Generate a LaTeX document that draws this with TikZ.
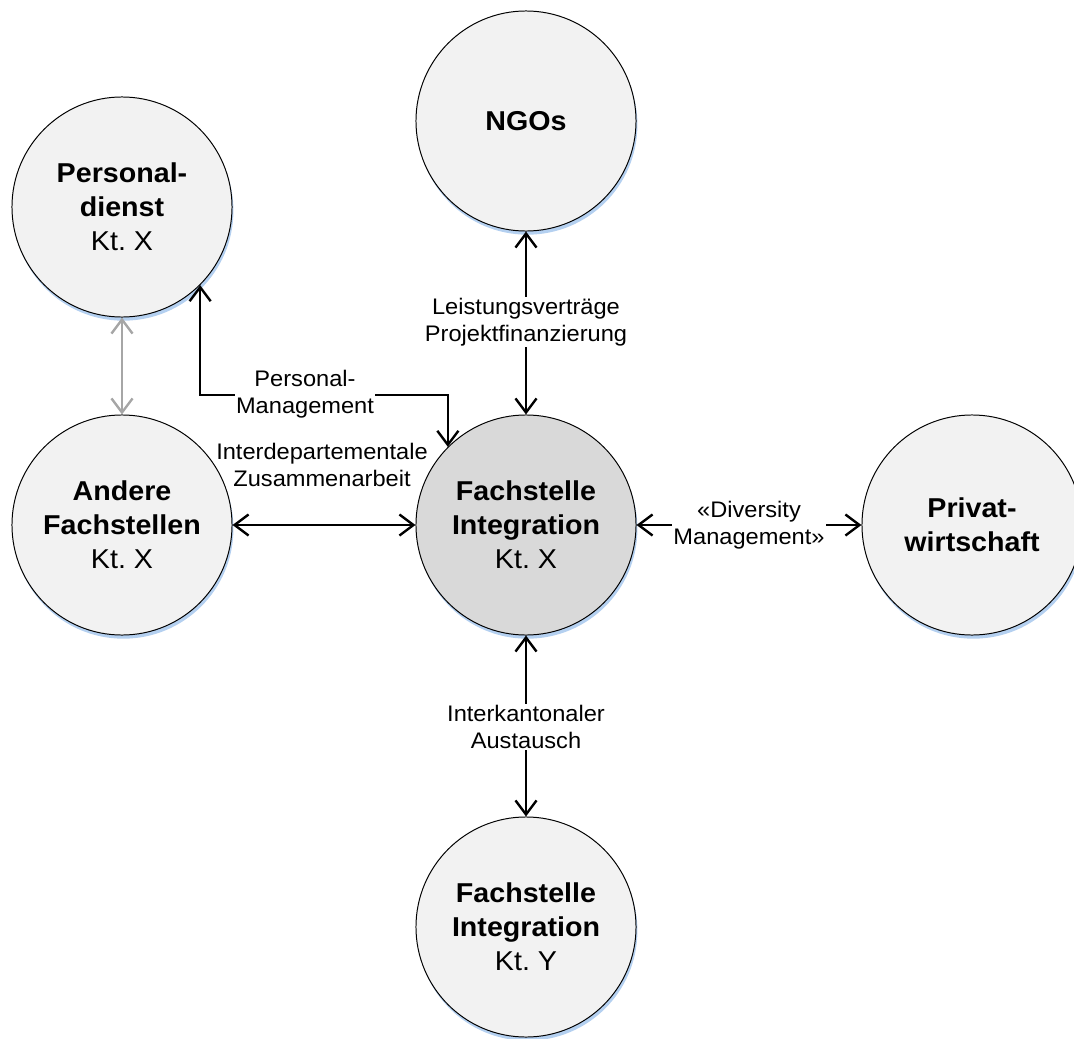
\documentclass[tikz,border=0pt]{standalone}
\usepackage{fontspec}
\setmainfont{Liberation Sans}[FakeStretch=1.05]
\usetikzlibrary{arrows.meta,shadows}
\frenchspacing
\definecolor{circfill}{HTML}{F2F2F2}
\definecolor{centerfill}{HTML}{D9D9D9}
\definecolor{shadowblue}{RGB}{180,208,240}
\definecolor{arrowgray}{HTML}{A6A6A6}
\tikzset{
  bubble/.style={circle, draw=black, line width=0.7pt, fill=circfill,
    minimum size=5.5cm, inner sep=0pt, align=center,
    font=\fontsize{19.4}{24.2}\selectfont\bfseries,
    drop shadow={shadow xshift=1pt, shadow yshift=-2.6pt, fill=shadowblue, opacity=1}},
  centerbubble/.style={bubble, fill=centerfill},
  link/.style={line width=1.7pt, black, {Straight Barb[length=10pt,width=15pt]}-{Straight Barb[length=10pt,width=15pt]}},
  graylink/.style={link, draw=arrowgray},
  lbl/.style={align=center, inner sep=1pt, font=\fontsize{16}{19.2}\selectfont},
  lblw/.style={lbl, fill=white}
}
\begin{document}
\begin{tikzpicture}[x=0.025cm, y=-0.025cm]
\useasboundingbox (0,0) rectangle (1074,1039);
% circles
\node[bubble] (PD) at (122,207) {Personal-\\dienst\\{\mdseries Kt. X}};
\node[bubble] (NGO) at (526,121) {NGOs};
\node[bubble] (AF) at (122,525) {Andere\\Fachstellen\\{\mdseries Kt. X}};
\node[centerbubble] (FI) at (526,525) {Fachstelle\\Integration\\{\mdseries Kt. X}};
\node[bubble] (PW) at (972,525) {Privat-\\wirtschaft};
\node[bubble] (FY) at (526,927) {Fachstelle\\Integration\\{\mdseries Kt. Y}};
% connectors
\coordinate (pmturn) at (305,395);
\draw[graylink] (PD.south) -- (AF.north);
\draw[link] (NGO.south) -- (FI.north);
\draw[link] (AF.east) -- (FI.west);
\draw[link] (FI.east) -- (PW.west);
\draw[link] (FI.south) -- (FY.north);
\draw[link] (PD.-45) |- (pmturn) -| (FI.135);
% labels
\node[lblw] (lPM) at (305,394) {Personal-\\Management};
\node[lbl] (lIZ) at (322,465) {Interdepartementale\\Zusammenarbeit};
\node[lblw] (lLP) at (526,322) {Leistungsverträge\\Projektfinanzierung};
\node[lblw] (lDM) at (749,525) {«Diversity\\Management»};
\node[lblw] (lIA) at (526,727) {Interkantonaler\\Austausch};
\end{tikzpicture}
\end{document}
